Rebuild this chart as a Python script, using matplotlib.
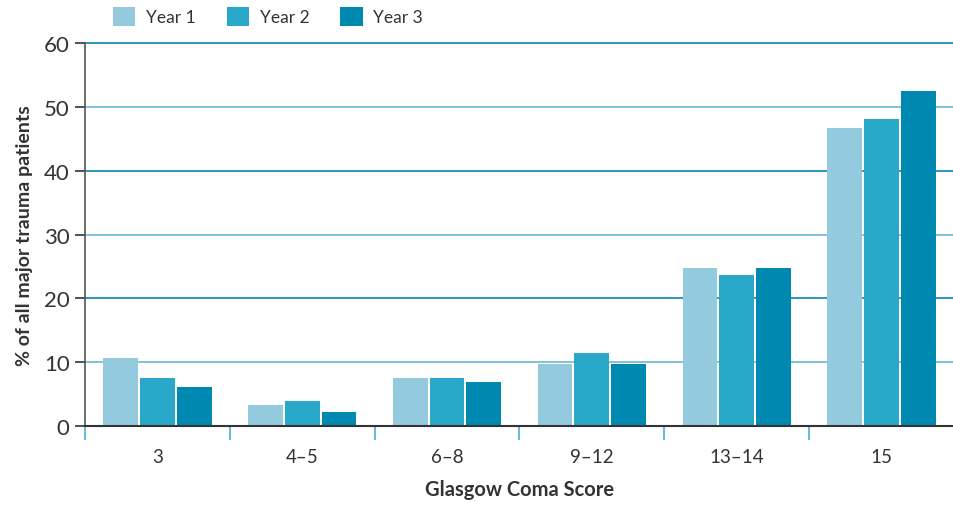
import matplotlib.pyplot as plt
import numpy as np

# Glasgow Coma Score groups and share of patients per year
categories = ["3", "4\u20135", "6\u20138", "9\u201312", "13\u201314", "15"]
year1 = [10.7, 3.3, 7.6, 9.7, 24.8, 46.7]
year2 = [7.6, 4.0, 7.6, 11.5, 23.6, 48.1]
year3 = [6.1, 2.2, 6.9, 9.8, 24.8, 52.5]
series_names = ["Year 1", "Year 2", "Year 3"]
colors = ["#94cade", "#2aa8c9", "#0089b0"]
yticks = [0, 10, 20, 30, 40, 50, 60]

plt.rcParams["font.family"] = ["Lato", "DejaVu Sans"]

fig = plt.figure(figsize=(9.54, 5.06), dpi=100)
ax = fig.add_axes([0.089, 0.156, 0.911, 0.757])

x = np.arange(len(categories))
width = 0.24
step = 0.254
for i, (vals, name, c) in enumerate(zip([year1, year2, year3], series_names, colors)):
    ax.bar(x + (i - 1) * step, vals, width, color=c, label=name, zorder=2)

# gridlines, alternating shades
for t in yticks[1:]:
    gc = "#1b8fb5" if t % 20 == 0 else "#74bfd3"
    ax.axhline(t, color=gc, lw=1.3, zorder=1, clip_on=False)

ax.set_xlim(-0.5, 5.5)
ax.set_ylim(0, 60)
ax.set_yticks(yticks)
ax.set_xticks(x)
ax.set_xticklabels(categories)
ax.set_xticks(np.arange(-0.5, 6.0, 1.0), minor=True)

ax.tick_params(axis="x", which="major", length=0, pad=16, labelsize=13.5, colors="#333333")
ax.tick_params(axis="x", which="minor", length=10, width=1.2, color="#48b0cc", direction="out")
ax.tick_params(axis="y", length=7, width=1.2, labelsize=16, colors="#333333", pad=4)
for tl in ax.yaxis.get_ticklines():
    tl.set_color("#48b0cc")

for s in ["top", "right"]:
    ax.spines[s].set_visible(False)
ax.spines["left"].set_color("#555555")
ax.spines["bottom"].set_color("#333333")
ax.spines["left"].set_linewidth(1.2)
ax.spines["bottom"].set_linewidth(1.5)
ax.spines["bottom"].set_zorder(3)

ax.set_xlabel("Glasgow Coma Score", fontsize=14.5, fontweight="bold", color="#333333", labelpad=10)
ax.set_ylabel("% of all major trauma patients", fontsize=14, fontweight="bold", color="#333333", labelpad=8)

ax.legend(
    loc="lower left",
    bbox_to_anchor=(0.012, 1.0),
    ncol=3,
    frameon=False,
    fontsize=12.5,
    handlelength=1.3,
    handleheight=1.3,
    columnspacing=1.8,
    handletextpad=0.6,
    labelcolor="#333333",
    borderaxespad=0.6,
)

fig.savefig("out.png", dpi=100)
